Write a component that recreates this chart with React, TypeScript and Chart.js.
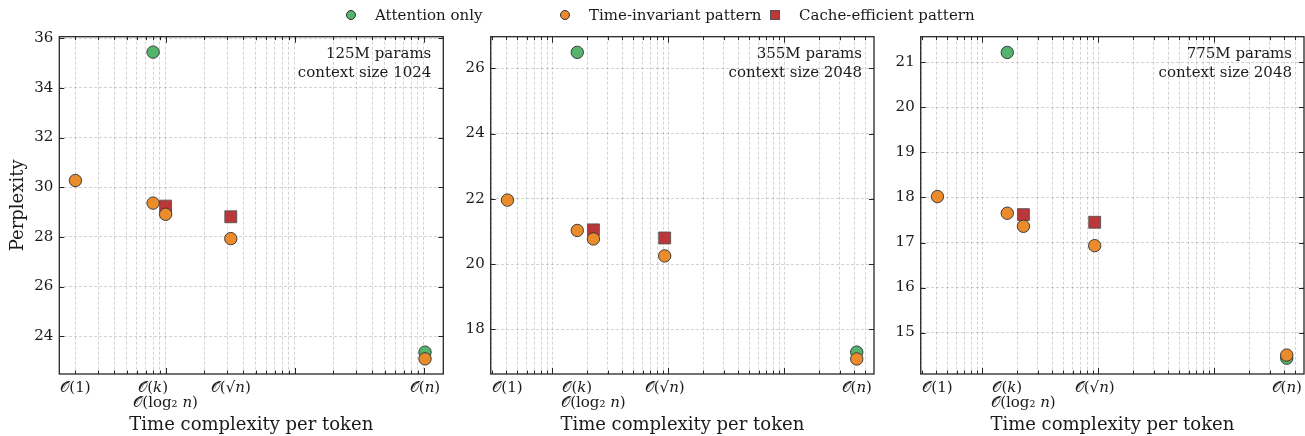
import React, { useEffect, useRef } from 'react';
import { Chart, registerables } from 'chart.js';

Chart.register(...registerables);

// ---------------- data ----------------
const seriesNames = ['Attention only', 'Time-invariant pattern', 'Cache-efficient pattern'];
const complexityLabels: (string | string[])[] = ['𝒪(1)', '𝒪(𝑘)', ['', '𝒪(log₂ 𝑛)'], '𝒪(√𝑛)', '𝒪(𝑛)'];

// x positions (log axis) of the five complexity classes, per panel
const xPos125 = [2, 8, 10, 32, 1024];
const xPos355 = [4.1, 16.4, 22.6, 93, 4210];
const xPos775 = [4.1, 16.4, 22.6, 93, 4210];

// perplexity values (null = not measured)
const attention125 = [null, 35.44, null, null, 23.36];
const timeInv125 = [30.27, 29.36, 28.91, 27.93, 23.09];
const cache125 = [null, null, 29.24, 28.81, null];

const attention355 = [null, 26.49, null, null, 17.3];
const timeInv355 = [21.96, 21.03, 20.77, 20.25, 17.09];
const cache355 = [null, null, 21.05, 20.8, null];

const attention775 = [null, 21.22, null, null, 14.43];
const timeInv775 = [18.02, 17.65, 17.36, 16.93, 14.5];
const cache775 = [null, null, 17.62, 17.45, null];

const notes125 = ['125M params', 'context size 1024'];
const notes355 = ['355M params', 'context size 2048'];
const notes775 = ['775M params', 'context size 2048'];

// ---------------- style ----------------
const FONT = '"DejaVu Serif", "Liberation Serif", serif';
const GREEN = '#54b46e';
const ORANGE = '#eb8c2c';
const RED = '#bb3739';
const EDGE = '#2e2e2e';
const TEXT = '#1a1a1a';
const GRID = 'rgba(0,0,0,0.22)';

type Panel = {
  canvasLeft: number;
  canvasWidth: number;
  yAxisWidth: number;
  padRight: number;
  xPos: number[];
  xMin: number;
  xMax: number;
  yMin: number;
  yMax: number;
  yStep: number;
  attention: (number | null)[];
  timeInv: (number | null)[];
  cache: (number | null)[];
  notes: string[];
  yTitle: boolean;
};

const panels: Panel[] = [
  {
    canvasLeft: 0, canvasWidth: 450, yAxisWidth: 59.3, padRight: 6.7,
    xPos: xPos125, xMin: 1.5, xMax: 1419, yMin: 22.48, yMax: 36.06, yStep: 2,
    attention: attention125, timeInv: timeInv125, cache: cache125, notes: notes125, yTitle: true,
  },
  {
    canvasLeft: 450, canvasWidth: 430, yAxisWidth: 40.7, padRight: 6,
    xPos: xPos355, xMin: 2.94, xMax: 5930, yMin: 16.63, yMax: 26.97, yStep: 2,
    attention: attention355, timeInv: timeInv355, cache: cache355, notes: notes355, yTitle: false,
  },
  {
    canvasLeft: 880, canvasWidth: 425, yAxisWidth: 40.7, padRight: 1,
    xPos: xPos775, xMin: 2.94, xMax: 5930, yMin: 14.08, yMax: 21.57, yStep: 1,
    attention: attention775, timeInv: timeInv775, cache: cache775, notes: notes775, yTitle: false,
  },
];

const isPow10 = (v: number) => Math.abs(Math.log10(v) - Math.round(Math.log10(v))) < 1e-9;

function buildXTicks(min: number, max: number, xPos: number[]) {
  const ticks: any[] = [];
  const e0 = Math.floor(Math.log10(min));
  const e1 = Math.ceil(Math.log10(max));
  for (let e = e0; e <= e1; e++) {
    for (let s = 1; s <= 9; s++) {
      const v = s * Math.pow(10, e);
      if (v > min && v < max) ticks.push({ value: v, grid: true, major: s === 1 });
    }
  }
  xPos.forEach((v, i) => {
    const hit = ticks.find((t) => Math.abs(t.value - v) < 1e-9);
    if (hit) hit.lbl = complexityLabels[i];
    else ticks.push({ value: v, grid: false, lbl: complexityLabels[i] });
  });
  ticks.sort((a, b) => a.value - b.value);
  return ticks;
}

const framePlugin = {
  id: 'frame',
  afterDraw(chart: any, _args: any, opts: any) {
    const { ctx } = chart;
    const { left, right, top, bottom } = chart.chartArea;
    const xs = chart.scales.x;
    const ys = chart.scales.y;
    ctx.save();
    ctx.strokeStyle = '#262626';
    ctx.lineWidth = 1;
    const line = (x1: number, y1: number, x2: number, y2: number) => {
      ctx.beginPath();
      ctx.moveTo(x1, y1);
      ctx.lineTo(x2, y2);
      ctx.stroke();
    };
    xs.ticks.forEach((t: any) => {
      if (!t.grid) return;
      const px = Math.round(xs.getPixelForValue(t.value)) + 0.5;
      const len = isPow10(t.value) ? 6 : 3.5;
      line(px, bottom, px, bottom - len);
      line(px, top, px, top + len);
    });
    ys.ticks.forEach((t: any) => {
      const py = Math.round(ys.getPixelForValue(t.value)) + 0.5;
      line(left, py, left + 5, py);
      line(right, py, right - 5, py);
    });
    ctx.lineWidth = 1.3;
    ctx.strokeRect(left, top, right - left, bottom - top);
    ctx.font = `15px ${FONT}`;
    ctx.fillStyle = TEXT;
    ctx.textAlign = 'right';
    ctx.textBaseline = 'middle';
    (opts.notes || []).forEach((l: string, i: number) => {
      ctx.fillText(l, right - 12, top + 17.5 + i * 19.3);
    });
    ctx.restore();
  },
};

function toPoints(xPos: number[], ys: (number | null)[]) {
  const pts: { x: number; y: number }[] = [];
  ys.forEach((y, i) => {
    if (y !== null) pts.push({ x: xPos[i], y });
  });
  return pts;
}

function PanelChart({ p }: { p: Panel }) {
  const ref = useRef<HTMLCanvasElement>(null);
  useEffect(() => {
    const chart = new Chart(ref.current as HTMLCanvasElement, {
      type: 'scatter',
      data: {
        datasets: [
          {
            label: seriesNames[0],
            data: toPoints(p.xPos, p.attention),
            backgroundColor: GREEN,
            borderColor: EDGE,
            borderWidth: 0.9,
            pointStyle: 'circle',
            pointRadius: 6.2,
            order: 2,
          },
          {
            label: seriesNames[1],
            data: toPoints(p.xPos, p.timeInv),
            backgroundColor: ORANGE,
            borderColor: EDGE,
            borderWidth: 0.9,
            pointStyle: 'circle',
            pointRadius: 6.2,
            order: 0,
          },
          {
            label: seriesNames[2],
            data: toPoints(p.xPos, p.cache),
            backgroundColor: RED,
            borderColor: '#555',
            borderWidth: 0.9,
            pointStyle: 'rect',
            pointRadius: 8.4,
            order: 1,
          },
        ] as any,
      },
      options: {
        animation: false,
        responsive: false,
        devicePixelRatio: 1,
        layout: { autoPadding: false, padding: { top: 36.7, right: p.padRight, bottom: 0, left: 0 } },
        plugins: {
          legend: { display: false },
          tooltip: { enabled: false },
          frame: { notes: p.notes },
        } as any,
        scales: {
          x: {
            type: 'logarithmic',
            position: 'bottom',
            min: p.xMin,
            max: p.xMax,
            afterBuildTicks: (scale: any) => {
              scale.ticks = buildXTicks(p.xMin, p.xMax, p.xPos);
            },
            afterFit: (scale: any) => {
              scale.height = 62;
              scale.paddingLeft = 0;
              scale.paddingRight = 0;
              scale.paddingTop = 0;
              scale.paddingBottom = 0;
            },
            grid: {
              drawTicks: false,
              lineWidth: 0.8,
              color: (c: any) => (c.tick && c.tick.grid ? GRID : 'rgba(0,0,0,0)'),
            },
            border: { display: false, dash: [3, 2] },
            ticks: {
              autoSkip: false,
              maxRotation: 0,
              minRotation: 0,
              padding: 6.5,
              color: TEXT,
              font: { family: FONT, size: 15, lineHeight: 1 },
              callback: function (this: any, _v: any, i: number) {
                const t = this.ticks[i];
                return t && t.lbl !== undefined ? t.lbl : '';
              },
            },
            title: {
              display: true,
              text: 'Time complexity per token',
              color: TEXT,
              font: { family: FONT, size: 18, lineHeight: 1.2 },
              padding: { top: 0, bottom: 0 },
            },
          },
          y: {
            type: 'linear',
            min: p.yMin,
            max: p.yMax,
            afterFit: (scale: any) => {
              scale.width = p.yAxisWidth;
              scale.paddingLeft = 0;
              scale.paddingRight = 0;
              scale.paddingTop = 0;
              scale.paddingBottom = 0;
            },
            grid: { drawTicks: false, lineWidth: 0.8, color: GRID },
            border: { display: false, dash: [3, 2] },
            ticks: {
              stepSize: p.yStep,
              includeBounds: false,
              padding: 6,
              color: TEXT,
              font: { family: FONT, size: 15, lineHeight: 1 },
            },
            title: {
              display: p.yTitle,
              text: 'Perplexity',
              color: TEXT,
              font: { family: FONT, size: 18, lineHeight: 1.2 },
              padding: { top: 8, bottom: 0 },
            },
          },
        },
      } as any,
      plugins: [framePlugin as any],
    });
    return () => chart.destroy();
  }, [p]);
  return (
    <canvas
      ref={ref}
      width={p.canvasWidth}
      height={436}
      style={{ position: 'absolute', left: p.canvasLeft, top: 0, width: p.canvasWidth, height: 436 }}
    />
  );
}

const legendMarkers = [
  { color: GREEN, shape: 'circle', markerX: 351, textX: 375 },
  { color: ORANGE, shape: 'circle', markerX: 565, textX: 589 },
  { color: RED, shape: 'square', markerX: 775, textX: 799 },
];

export default function App() {
  return (
    <div
      style={{
        position: 'absolute',
        left: 0,
        top: 0,
        width: 1305,
        height: 436,
        background: '#fff',
        fontFamily: FONT,
        overflow: 'hidden',
      }}
    >
      {panels.map((p, i) => (
        <PanelChart key={i} p={p} />
      ))}
      {legendMarkers.map((m, i) => (
        <React.Fragment key={i}>
          <div
            style={{
              position: 'absolute',
              left: m.markerX - 5,
              top: 10,
              width: 10,
              height: 10,
              boxSizing: 'border-box',
              background: m.color,
              border: `0.8px solid ${m.shape === 'circle' ? EDGE : '#555'}`,
              borderRadius: m.shape === 'circle' ? '50%' : 0,
            }}
          />
          <span
            style={{
              position: 'absolute',
              left: m.textX,
              top: 5,
              lineHeight: '20px',
              fontSize: 15,
              color: TEXT,
              whiteSpace: 'nowrap',
            }}
          >
            {seriesNames[i]}
          </span>
        </React.Fragment>
      ))}
    </div>
  );
}
